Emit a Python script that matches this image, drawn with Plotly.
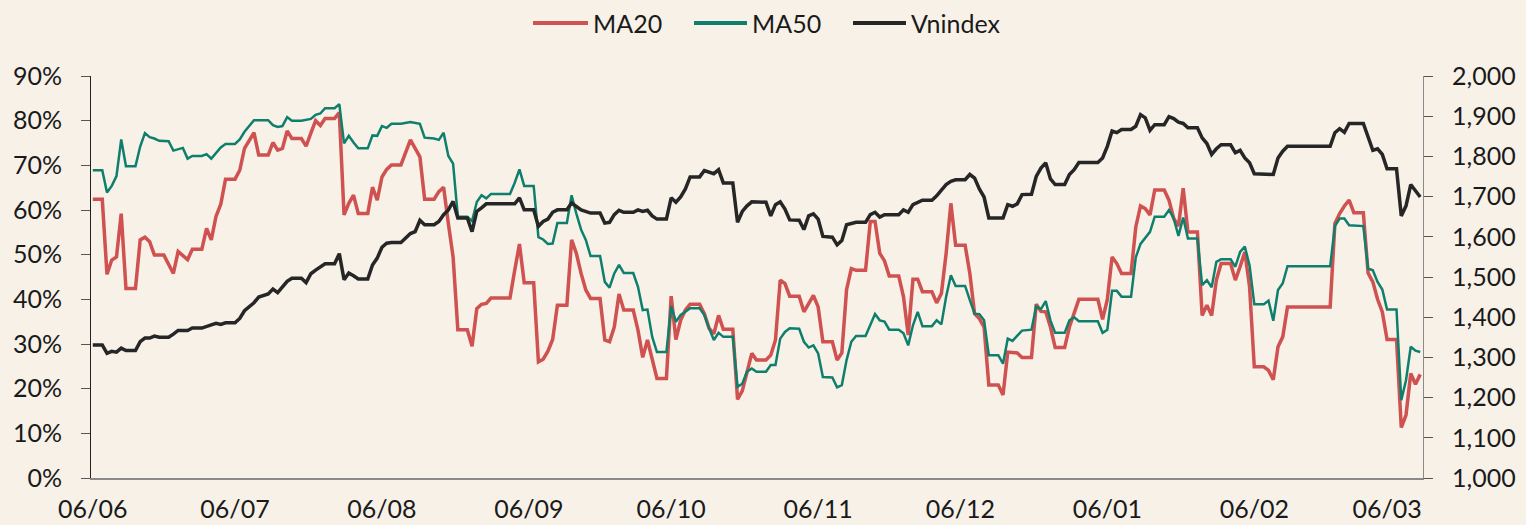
import plotly.graph_objects as go

# MA20 / MA50: % of stocks above their moving average; Vnindex: index level
ma20_dates = [
    "2025-06-06", "2025-06-08", "2025-06-09", "2025-06-10", "2025-06-11", "2025-06-12", "2025-06-13",
    "2025-06-15", "2025-06-16", "2025-06-17", "2025-06-18", "2025-06-19", "2025-06-21", "2025-06-23",
    "2025-06-24", "2025-06-25", "2025-06-26", "2025-06-27", "2025-06-29", "2025-06-30", "2025-07-01",
    "2025-07-02", "2025-07-03", "2025-07-04", "2025-07-06", "2025-07-07", "2025-07-08", "2025-07-10",
    "2025-07-11", "2025-07-13", "2025-07-14", "2025-07-15", "2025-07-16", "2025-07-17", "2025-07-18",
    "2025-07-20", "2025-07-21", "2025-07-22", "2025-07-23", "2025-07-24", "2025-07-25", "2025-07-27",
    "2025-07-28", "2025-07-29", "2025-07-30", "2025-07-31", "2025-08-01", "2025-08-03", "2025-08-04",
    "2025-08-05", "2025-08-06", "2025-08-07", "2025-08-08", "2025-08-10", "2025-08-11", "2025-08-12",
    "2025-08-13", "2025-08-14", "2025-08-15", "2025-08-17", "2025-08-18", "2025-08-19", "2025-08-20",
    "2025-08-21", "2025-08-22", "2025-08-24", "2025-08-25", "2025-08-26", "2025-08-27", "2025-08-28",
    "2025-08-29", "2025-09-02", "2025-09-03", "2025-09-04", "2025-09-05", "2025-09-07", "2025-09-08",
    "2025-09-09", "2025-09-10", "2025-09-11", "2025-09-12", "2025-09-14", "2025-09-15", "2025-09-16",
    "2025-09-17", "2025-09-18", "2025-09-19", "2025-09-21", "2025-09-22", "2025-09-23", "2025-09-24",
    "2025-09-25", "2025-09-26", "2025-09-28", "2025-09-29", "2025-09-30", "2025-10-01", "2025-10-02",
    "2025-10-03", "2025-10-05", "2025-10-06", "2025-10-07", "2025-10-08", "2025-10-09", "2025-10-10",
    "2025-10-12", "2025-10-13", "2025-10-14", "2025-10-15", "2025-10-16", "2025-10-17", "2025-10-19",
    "2025-10-20", "2025-10-21", "2025-10-22", "2025-10-23", "2025-10-24", "2025-10-26", "2025-10-27",
    "2025-10-28", "2025-10-29", "2025-10-30", "2025-10-31", "2025-11-02", "2025-11-03", "2025-11-04",
    "2025-11-05", "2025-11-06", "2025-11-07", "2025-11-09", "2025-11-10", "2025-11-11", "2025-11-12",
    "2025-11-13", "2025-11-14", "2025-11-16", "2025-11-17", "2025-11-18", "2025-11-19", "2025-11-20",
    "2025-11-21", "2025-11-23", "2025-11-24", "2025-11-25", "2025-11-26", "2025-11-27", "2025-11-28",
    "2025-11-30", "2025-12-01", "2025-12-02", "2025-12-03", "2025-12-04", "2025-12-05", "2025-12-07",
    "2025-12-08", "2025-12-09", "2025-12-10", "2025-12-11", "2025-12-12", "2025-12-14", "2025-12-15",
    "2025-12-16", "2025-12-18", "2025-12-19", "2025-12-21", "2025-12-22", "2025-12-23", "2025-12-24",
    "2025-12-25", "2025-12-26", "2025-12-28", "2025-12-29", "2025-12-30", "2025-12-31", "2026-01-04",
    "2026-01-05", "2026-01-06", "2026-01-07", "2026-01-08", "2026-01-09", "2026-01-11", "2026-01-12",
    "2026-01-13", "2026-01-14", "2026-01-15", "2026-01-16", "2026-01-18", "2026-01-19", "2026-01-20",
    "2026-01-21", "2026-01-22", "2026-01-23", "2026-01-25", "2026-01-26", "2026-01-27", "2026-01-28",
    "2026-01-29", "2026-01-30", "2026-02-01", "2026-02-02", "2026-02-03", "2026-02-04", "2026-02-05",
    "2026-02-06", "2026-02-08", "2026-02-09", "2026-02-10", "2026-02-11", "2026-02-12", "2026-02-13",
    "2026-02-22", "2026-02-23", "2026-02-24", "2026-02-25", "2026-02-26", "2026-02-27", "2026-03-01",
    "2026-03-02", "2026-03-03", "2026-03-04", "2026-03-05", "2026-03-06", "2026-03-08", "2026-03-09",
    "2026-03-10", "2026-03-11", "2026-03-12", "2026-03-13",
]
ma20_values = [
    62.4, 62.4, 45.6, 48.8, 49.5, 59.2, 42.4,
    42.4, 53.3, 53.9, 52.9, 49.9, 49.9, 45.8,
    50.7, 49.7, 48.9, 51.2, 51.2, 55.9, 53.3,
    58.6, 61.3, 66.9, 66.9, 68.9, 73.8, 77.3,
    72.3, 72.3, 75.1, 73.4, 73.8, 77.7, 76.0,
    76.0, 74.3, 77.2, 80.0, 78.9, 80.5, 80.5,
    81.8, 58.9, 61.5, 63.3, 59.2, 59.2, 65.1,
    62.2, 67.4, 69.1, 70.1, 70.1, 73.0, 75.7,
    73.8, 71.9, 62.4, 62.4, 64.1, 65.1, 57.0,
    49.5, 33.2, 33.2, 29.5, 37.9, 38.9, 39.1,
    40.3, 40.3, 46.5, 52.4, 43.7, 43.7, 26.0,
    26.6, 28.4, 31.0, 38.7, 38.7, 53.3, 50.3,
    45.8, 42.1, 40.2, 40.2, 30.9, 30.5, 33.8,
    41.2, 37.6, 37.6, 33.1, 27.0, 30.9, 26.8,
    22.3, 22.3, 40.7, 31.0, 35.3, 37.6, 38.9,
    38.9, 36.8, 33.5, 32.3, 36.4, 33.3, 33.3,
    17.6, 19.5, 24.1, 27.9, 26.4, 26.4, 27.5,
    30.9, 44.3, 43.5, 40.7, 40.7, 37.2, 39.2,
    40.9, 38.3, 30.5, 30.5, 26.4, 28.0, 42.2,
    46.9, 46.5, 46.5, 57.4, 57.4, 50.3, 48.6,
    45.2, 45.2, 40.6, 32.0, 44.5, 44.5, 41.7,
    41.7, 39.2, 41.3, 50.3, 61.5, 52.1, 52.1,
    45.8, 36.8, 35.7, 33.8, 20.8, 20.8, 18.6,
    28.2, 28.0, 27.0, 27.0, 38.9, 37.3, 37.2,
    33.8, 29.2, 29.2, 33.8, 37.2, 40.0, 40.0,
    35.5, 40.0, 49.5, 48.0, 45.8, 45.8, 56.2,
    60.9, 60.3, 58.9, 64.5, 64.5, 62.2, 58.1,
    56.4, 64.9, 55.1, 55.1, 36.4, 38.7, 36.4,
    44.3, 48.0, 48.0, 44.3, 47.3, 50.6, 42.8,
    24.9, 24.9, 24.1, 22.0, 29.4, 31.6, 38.3,
    38.3, 57.0, 59.2, 60.9, 62.2, 59.4, 59.4,
    45.9, 43.9, 40.0, 37.2, 31.0, 31.0, 11.3,
    14.1, 23.4, 21.0, 23.2,
]

ma50_dates = [
    "2025-06-06", "2025-06-08", "2025-06-09", "2025-06-10", "2025-06-11", "2025-06-12", "2025-06-13",
    "2025-06-15", "2025-06-16", "2025-06-17", "2025-06-18", "2025-06-19", "2025-06-20", "2025-06-22",
    "2025-06-23", "2025-06-24", "2025-06-25", "2025-06-26", "2025-06-27", "2025-06-29", "2025-06-30",
    "2025-07-01", "2025-07-02", "2025-07-03", "2025-07-04", "2025-07-06", "2025-07-07", "2025-07-08",
    "2025-07-10", "2025-07-13", "2025-07-14", "2025-07-15", "2025-07-16", "2025-07-17", "2025-07-18",
    "2025-07-20", "2025-07-22", "2025-07-23", "2025-07-24", "2025-07-25", "2025-07-27", "2025-07-28",
    "2025-07-29", "2025-07-30", "2025-07-31", "2025-08-01", "2025-08-03", "2025-08-04", "2025-08-05",
    "2025-08-06", "2025-08-07", "2025-08-08", "2025-08-10", "2025-08-12", "2025-08-14", "2025-08-15",
    "2025-08-17", "2025-08-18", "2025-08-19", "2025-08-20", "2025-08-21", "2025-08-22", "2025-08-24",
    "2025-08-25", "2025-08-26", "2025-08-27", "2025-08-28", "2025-08-29", "2025-09-02", "2025-09-03",
    "2025-09-04", "2025-09-05", "2025-09-07", "2025-09-08", "2025-09-09", "2025-09-10", "2025-09-11",
    "2025-09-12", "2025-09-14", "2025-09-15", "2025-09-16", "2025-09-17", "2025-09-18", "2025-09-19",
    "2025-09-21", "2025-09-22", "2025-09-23", "2025-09-24", "2025-09-25", "2025-09-26", "2025-09-28",
    "2025-09-29", "2025-09-30", "2025-10-01", "2025-10-02", "2025-10-03", "2025-10-05", "2025-10-06",
    "2025-10-07", "2025-10-08", "2025-10-09", "2025-10-10", "2025-10-12", "2025-10-13", "2025-10-14",
    "2025-10-15", "2025-10-16", "2025-10-17", "2025-10-19", "2025-10-20", "2025-10-21", "2025-10-22",
    "2025-10-23", "2025-10-24", "2025-10-26", "2025-10-27", "2025-10-28", "2025-10-29", "2025-10-30",
    "2025-10-31", "2025-11-02", "2025-11-03", "2025-11-04", "2025-11-05", "2025-11-06", "2025-11-07",
    "2025-11-09", "2025-11-10", "2025-11-11", "2025-11-12", "2025-11-13", "2025-11-14", "2025-11-16",
    "2025-11-17", "2025-11-18", "2025-11-19", "2025-11-20", "2025-11-21", "2025-11-23", "2025-11-24",
    "2025-11-25", "2025-11-26", "2025-11-27", "2025-11-28", "2025-11-30", "2025-12-01", "2025-12-02",
    "2025-12-03", "2025-12-04", "2025-12-05", "2025-12-07", "2025-12-08", "2025-12-09", "2025-12-10",
    "2025-12-11", "2025-12-12", "2025-12-14", "2025-12-15", "2025-12-16", "2025-12-17", "2025-12-19",
    "2025-12-21", "2025-12-22", "2025-12-23", "2025-12-24", "2025-12-25", "2025-12-26", "2025-12-28",
    "2025-12-29", "2025-12-30", "2025-12-31", "2026-01-04", "2026-01-05", "2026-01-06", "2026-01-07",
    "2026-01-08", "2026-01-09", "2026-01-11", "2026-01-12", "2026-01-13", "2026-01-15", "2026-01-16",
    "2026-01-18", "2026-01-19", "2026-01-20", "2026-01-21", "2026-01-22", "2026-01-23", "2026-01-25",
    "2026-01-26", "2026-01-27", "2026-01-28", "2026-01-29", "2026-01-30", "2026-02-01", "2026-02-02",
    "2026-02-03", "2026-02-04", "2026-02-05", "2026-02-06", "2026-02-08", "2026-02-09", "2026-02-10",
    "2026-02-11", "2026-02-12", "2026-02-13", "2026-02-22", "2026-02-23", "2026-02-24", "2026-02-25",
    "2026-02-26", "2026-03-01", "2026-03-02", "2026-03-03", "2026-03-04", "2026-03-05", "2026-03-06",
    "2026-03-08", "2026-03-09", "2026-03-10", "2026-03-11", "2026-03-12", "2026-03-13",
]
ma50_values = [
    68.9, 68.9, 63.9, 65.4, 67.6, 75.8, 69.8,
    69.8, 74.2, 77.2, 76.3, 76.0, 75.5, 75.4,
    73.3, 73.6, 73.9, 71.5, 72.1, 72.1, 72.5,
    71.5, 72.8, 74.0, 74.8, 74.8, 75.8, 77.5,
    80.1, 80.1, 79.0, 78.6, 78.8, 80.8, 80.0,
    80.0, 80.4, 81.3, 81.6, 82.8, 82.8, 83.7,
    74.9, 76.6, 75.1, 73.8, 73.8, 76.7, 76.6,
    78.8, 78.4, 79.3, 79.3, 79.7, 79.3, 76.2,
    76.0, 75.7, 77.3, 72.1, 70.4, 58.5, 58.5,
    57.5, 61.8, 63.3, 62.6, 63.6, 63.6, 66.1,
    69.1, 65.4, 65.4, 53.9, 53.4, 52.4, 52.5,
    57.1, 57.1, 63.3, 59.2, 55.6, 53.3, 49.7,
    49.7, 43.9, 42.6, 45.8, 47.7, 45.9, 45.9,
    42.8, 37.6, 37.7, 31.6, 28.2, 28.2, 38.5,
    35.0, 36.5, 37.2, 38.0, 38.0, 36.5, 33.5,
    30.9, 32.5, 31.6, 31.6, 20.4, 21.1, 23.8,
    24.5, 23.8, 23.8, 25.3, 25.3, 31.2, 32.7,
    33.5, 33.4, 30.5, 29.2, 29.7, 27.9, 22.6,
    22.5, 20.3, 20.8, 26.4, 30.5, 31.8, 31.8,
    34.2, 36.7, 35.3, 35.0, 33.2, 33.2, 32.4,
    29.7, 34.2, 37.2, 34.0, 34.0, 35.3, 34.4,
    40.6, 45.4, 43.0, 43.0, 39.8, 36.8, 36.7,
    35.3, 27.5, 27.5, 25.6, 31.2, 30.7, 33.0,
    33.2, 38.4, 37.8, 39.6, 35.3, 32.5, 32.5,
    35.3, 36.0, 35.1, 35.1, 32.5, 33.2, 41.9,
    41.9, 40.6, 40.6, 49.4, 52.4, 55.1, 58.5,
    58.5, 60.0, 58.1, 54.2, 58.3, 53.6, 53.6,
    43.2, 44.3, 42.7, 48.4, 49.0, 49.0, 47.3,
    50.6, 51.8, 47.6, 38.9, 38.9, 39.7, 35.2,
    42.1, 43.6, 47.4, 47.4, 56.4, 58.1, 58.1,
    56.6, 56.4, 46.9, 46.5, 43.9, 42.2, 37.7,
    37.7, 17.4, 21.9, 29.4, 28.5, 28.2,
]

vni_dates = [
    "2025-06-06", "2025-06-08", "2025-06-09", "2025-06-10", "2025-06-11", "2025-06-12", "2025-06-13",
    "2025-06-15", "2025-06-16", "2025-06-17", "2025-06-18", "2025-06-19", "2025-06-20", "2025-06-22",
    "2025-06-23", "2025-06-24", "2025-06-26", "2025-06-27", "2025-06-29", "2025-06-30", "2025-07-01",
    "2025-07-02", "2025-07-03", "2025-07-04", "2025-07-06", "2025-07-07", "2025-07-08", "2025-07-10",
    "2025-07-11", "2025-07-13", "2025-07-14", "2025-07-15", "2025-07-16", "2025-07-17", "2025-07-18",
    "2025-07-20", "2025-07-21", "2025-07-22", "2025-07-23", "2025-07-24", "2025-07-25", "2025-07-27",
    "2025-07-28", "2025-07-29", "2025-07-30", "2025-07-31", "2025-08-01", "2025-08-03", "2025-08-04",
    "2025-08-05", "2025-08-06", "2025-08-07", "2025-08-08", "2025-08-10", "2025-08-11", "2025-08-12",
    "2025-08-13", "2025-08-14", "2025-08-15", "2025-08-17", "2025-08-18", "2025-08-19", "2025-08-20",
    "2025-08-21", "2025-08-22", "2025-08-24", "2025-08-25", "2025-08-26", "2025-08-27", "2025-08-28",
    "2025-09-03", "2025-09-04", "2025-09-05", "2025-09-07", "2025-09-08", "2025-09-09", "2025-09-10",
    "2025-09-11", "2025-09-12", "2025-09-14", "2025-09-15", "2025-09-16", "2025-09-17", "2025-09-19",
    "2025-09-21", "2025-09-22", "2025-09-23", "2025-09-24", "2025-09-25", "2025-09-26", "2025-09-28",
    "2025-09-29", "2025-09-30", "2025-10-01", "2025-10-02", "2025-10-03", "2025-10-05", "2025-10-06",
    "2025-10-07", "2025-10-08", "2025-10-09", "2025-10-10", "2025-10-12", "2025-10-13", "2025-10-14",
    "2025-10-15", "2025-10-16", "2025-10-17", "2025-10-19", "2025-10-20", "2025-10-21", "2025-10-22",
    "2025-10-23", "2025-10-24", "2025-10-26", "2025-10-27", "2025-10-28", "2025-10-29", "2025-10-30",
    "2025-10-31", "2025-11-02", "2025-11-03", "2025-11-04", "2025-11-05", "2025-11-06", "2025-11-07",
    "2025-11-09", "2025-11-10", "2025-11-11", "2025-11-12", "2025-11-13", "2025-11-14", "2025-11-16",
    "2025-11-17", "2025-11-18", "2025-11-19", "2025-11-20", "2025-11-23", "2025-11-24", "2025-11-25",
    "2025-11-26", "2025-11-27", "2025-11-28", "2025-11-30", "2025-12-01", "2025-12-02", "2025-12-03",
    "2025-12-04", "2025-12-05", "2025-12-07", "2025-12-08", "2025-12-09", "2025-12-10", "2025-12-11",
    "2025-12-12", "2025-12-15", "2025-12-16", "2025-12-17", "2025-12-18", "2025-12-19", "2025-12-21",
    "2025-12-22", "2025-12-23", "2025-12-24", "2025-12-25", "2025-12-26", "2025-12-28", "2025-12-29",
    "2025-12-30", "2025-12-31", "2026-01-04", "2026-01-05", "2026-01-06", "2026-01-07", "2026-01-08",
    "2026-01-09", "2026-01-11", "2026-01-12", "2026-01-13", "2026-01-14", "2026-01-15", "2026-01-16",
    "2026-01-18", "2026-01-19", "2026-01-20", "2026-01-21", "2026-01-22", "2026-01-23", "2026-01-25",
    "2026-01-26", "2026-01-27", "2026-01-28", "2026-01-29", "2026-01-30", "2026-02-01", "2026-02-02",
    "2026-02-03", "2026-02-04", "2026-02-05", "2026-02-06", "2026-02-08", "2026-02-10", "2026-02-11",
    "2026-02-12", "2026-02-13", "2026-02-22", "2026-02-23", "2026-02-24", "2026-02-25", "2026-02-26",
    "2026-03-01", "2026-03-02", "2026-03-03", "2026-03-04", "2026-03-05", "2026-03-06", "2026-03-08",
    "2026-03-09", "2026-03-10", "2026-03-11", "2026-03-12", "2026-03-13",
]
vni_values = [
    1331, 1331, 1310, 1315, 1313, 1323, 1317,
    1317, 1339, 1348, 1348, 1353, 1350, 1350,
    1358, 1367, 1367, 1373, 1373, 1376, 1381,
    1385, 1382, 1386, 1386, 1397, 1416, 1436,
    1450, 1458, 1470, 1461, 1475, 1489, 1497,
    1497, 1486, 1508, 1517, 1524, 1533, 1533,
    1558, 1493, 1510, 1503, 1495, 1495, 1530,
    1547, 1574, 1584, 1586, 1586, 1597, 1608,
    1613, 1641, 1630, 1630, 1638, 1655, 1667,
    1688, 1647, 1647, 1613, 1663, 1672, 1682,
    1682, 1697, 1667, 1667, 1626, 1638, 1644,
    1661, 1667, 1667, 1684, 1676, 1667, 1659,
    1659, 1634, 1636, 1655, 1666, 1661, 1661,
    1667, 1663, 1666, 1652, 1644, 1644, 1697,
    1686, 1699, 1719, 1749, 1749, 1765, 1760,
    1757, 1767, 1734, 1734, 1636, 1663, 1677,
    1687, 1686, 1686, 1652, 1680, 1687, 1669,
    1642, 1641, 1618, 1652, 1657, 1644, 1601,
    1599, 1580, 1591, 1630, 1633, 1636, 1636,
    1655, 1661, 1649, 1655, 1655, 1667, 1661,
    1680, 1686, 1691, 1691, 1702, 1716, 1730,
    1738, 1742, 1742, 1755, 1746, 1719, 1699,
    1647, 1647, 1680, 1676, 1682, 1705, 1706,
    1750, 1771, 1784, 1744, 1730, 1730, 1755,
    1767, 1785, 1785, 1796, 1825, 1863, 1859,
    1867, 1867, 1875, 1904, 1896, 1865, 1879,
    1879, 1899, 1894, 1885, 1882, 1871, 1871,
    1846, 1832, 1805, 1819, 1829, 1829, 1809,
    1815, 1796, 1784, 1757, 1757, 1755, 1796,
    1813, 1825, 1825, 1859, 1869, 1860, 1882,
    1882, 1849, 1815, 1819, 1805, 1769, 1769,
    1652, 1677, 1730, 1716, 1699,
]

x_tick_dates = [
    "2025-06-06", "2025-07-06", "2025-08-06", "2025-09-06", "2025-10-06",
    "2025-11-06", "2025-12-06", "2026-01-06", "2026-02-06", "2026-03-06",
]

series_names = ["MA20", "MA50", "Vnindex"]
series_colors = ["#cf5150", "#0f7f6d", "#262626"]
series_widths = [3.5, 2.5, 3.5]

BG = "#f7f1e8"
FONT = "Lato, 'Open Sans', sans-serif"
TEXT = "#1a1a1a"

W, H = 1526, 525
M = dict(l=91, r=103, t=76, b=47)
PLOT_W = W - M["l"] - M["r"]
PLOT_H = H - M["t"] - M["b"]


def px_to_paper(x_px, y_px):
    return (x_px - M["l"]) / PLOT_W, (H - M["b"] - y_px) / PLOT_H


fig = go.Figure()
# MA50 drawn above MA20 (primary axis), Vnindex on the secondary axis on top
fig.add_trace(go.Scatter(
    x=ma20_dates, y=ma20_values, name=series_names[0], mode="lines",
    line=dict(color=series_colors[0], width=series_widths[0]),
))
fig.add_trace(go.Scatter(
    x=ma50_dates, y=ma50_values, name=series_names[1], mode="lines",
    line=dict(color=series_colors[1], width=series_widths[1]),
))
fig.add_trace(go.Scatter(
    x=vni_dates, y=vni_values, name=series_names[2], mode="lines", yaxis="y2",
    line=dict(color=series_colors[2], width=series_widths[2]),
))

# hand-made legend so the swatch lines are as long as in the source chart
legend_items = [(533, 588), (694, 747), (853, 906)]
for (x0, x1), name, color in zip(legend_items, series_names, series_colors):
    px0, py = px_to_paper(x0, 23)
    px1, _ = px_to_paper(x1, 23)
    fig.add_shape(type="line", xref="paper", yref="paper",
                  x0=px0, x1=px1, y0=py, y1=py,
                  line=dict(color=color, width=4))
    tx, _ = px_to_paper(x1 + 3, 23)
    fig.add_annotation(xref="paper", yref="paper", x=tx, y=py,
                       text=name, showarrow=False, xanchor="left", yanchor="middle",
                       font=dict(size=25, color=TEXT, family=FONT))

fig.update_layout(
    width=W, height=H,
    paper_bgcolor=BG, plot_bgcolor=BG,
    font=dict(family=FONT, size=25, color=TEXT),
    margin=M,
    showlegend=False,
    xaxis=dict(
        type="date",
        range=["2025-06-05 15:00", "2026-03-13 14:00"],
        tickvals=x_tick_dates, tickformat="%d/%m",
        showgrid=False, zeroline=False,
        showline=True, linecolor="#8a8a8a", linewidth=1.5,
        ticks="", ticklabelstandoff=8, automargin=False,
    ),
    yaxis=dict(
        range=[0, 90], dtick=10, ticksuffix="%",
        showgrid=False, zeroline=False,
        showline=True, linecolor="#222222", linewidth=1,
        ticks="outside", ticklen=9, tickcolor="#555555",
        ticklabelstandoff=14, automargin=False,
    ),
    yaxis2=dict(
        overlaying="y", side="right",
        range=[1000, 2000], dtick=100, tickformat=",",
        showgrid=False, zeroline=False,
        showline=True, linecolor="#8a8a8a", linewidth=1,
        ticks="outside", ticklen=9, tickcolor="#555555",
        ticklabelstandoff=14, automargin=False,
    ),
)

fig.write_html(
    "out.html",
    config={"displayModeBar": False},
    post_script="document.body.style.margin='0';document.body.style.background='%s';" % BG,
)
